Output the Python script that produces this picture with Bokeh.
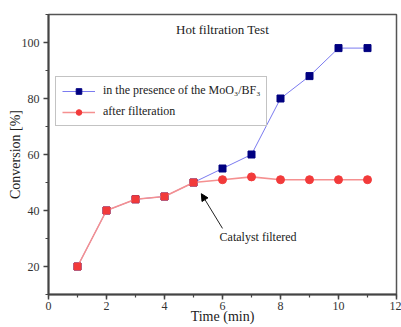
from bokeh.plotting import figure
from bokeh.models import (Legend, LegendItem, Label, Arrow, NormalHead,
                          SingleIntervalTicker, Range1d)
from bokeh.embed import file_html
from bokeh.resources import INLINE

# Conversion over time for the hot filtration experiment
time_min = [1, 2, 3, 4, 5, 6, 7, 8, 9, 10, 11]
with_catalyst = [20, 40, 44, 45, 50, 55, 60, 80, 88, 98, 98]
after_filtration = [20, 40, 44, 45, 50, 51, 52, 51, 51, 51, 51]
filter_index = 4  # catalyst removed after this sample (t = 5 min)

x_ticks_step = 2
y_ticks_step = 20

SERIF = "'Liberation Serif'"
BLUE_MARK = "#000080"
BLUE_LINE = "#7b7bf0"
RED_MARK = "#f23a3a"
RED_LINE = "#f59090"

p = figure(width=401, height=327, output_backend="svg", toolbar_location=None,
           x_range=Range1d(0, 12), y_range=Range1d(10, 110),
           min_border_left=48, min_border_right=5,
           min_border_top=14, min_border_bottom=33)
p.border_fill_color = "white"
p.background_fill_color = "white"
p.xgrid.visible = False
p.ygrid.visible = False
p.outline_line_color = "#555555"
p.outline_line_width = 1.5

# series: presence of catalyst
b_line = p.line(time_min, with_catalyst, line_color=BLUE_LINE, line_width=1)
b_mark = p.scatter(time_min, with_catalyst, marker="square", size=7,
                   fill_color=BLUE_MARK, line_color=BLUE_MARK)

# series: after filtration (shared points drawn as squares, later ones as circles)
r_line = p.line(time_min, after_filtration, line_color=RED_LINE, line_width=1.6)
k = filter_index + 1
p.scatter(time_min[:k], after_filtration[:k], marker="square", size=7,
          fill_color=RED_MARK, line_color=RED_MARK)
r_mark = p.scatter(time_min[k:], after_filtration[k:], marker="circle", size=8,
                   fill_color=RED_MARK, line_color=RED_MARK)

# axes
for ax in (p.xaxis[0], p.yaxis[0]):
    ax.axis_line_width = 2
    ax.axis_line_color = "#444444"
    ax.major_tick_line_color = "#444444"
    ax.minor_tick_line_color = "#444444"
    ax.major_tick_line_width = 1.5
    ax.minor_tick_line_width = 1.2
    ax.major_tick_in = 0
    ax.major_tick_out = 5
    ax.minor_tick_in = 0
    ax.minor_tick_out = 3
    ax.major_label_text_font = SERIF
    ax.major_label_text_font_size = "12px"
    ax.major_label_text_color = "#333333"
    ax.axis_label_text_font = SERIF
    ax.axis_label_text_font_size = "14px"
    ax.axis_label_text_font_style = "normal"
    ax.axis_label_text_color = "#222222"

p.xaxis.ticker = SingleIntervalTicker(interval=x_ticks_step, num_minor_ticks=2)
p.yaxis.ticker = SingleIntervalTicker(interval=y_ticks_step, num_minor_ticks=2)
p.xaxis.axis_label = "Time (min)"
p.yaxis.axis_label = "Conversion [%]"
p.xaxis.major_label_standoff = 2
p.xaxis.axis_label_standoff = -4
p.yaxis.major_label_standoff = 4
p.yaxis.axis_label_standoff = -4

# title inside the frame
p.add_layout(Label(x=6.0, y=104.5, text="Hot filtration Test",
                   text_font=SERIF, text_font_size="13px", text_color="#222222",
                   text_align="center", text_baseline="middle"))

# annotation for the filtration step
note_x, note_y = 5.9, 30.6
p.add_layout(Arrow(end=NormalHead(size=7, fill_color="black", line_color="black"),
                   x_start=6.0, y_start=33.6,
                   x_end=time_min[filter_index] + 0.27,
                   y_end=after_filtration[filter_index] - 4.0,
                   line_color="#222222", line_width=1))
p.add_layout(Label(x=note_x, y=note_y, text="Catalyst filtered",
                   text_font=SERIF, text_font_size="12px", text_color="#222222",
                   text_align="left", text_baseline="middle"))

legend = Legend(items=[
    LegendItem(label="in the presence of the MoO\u2083/BF\u2083", renderers=[b_line, b_mark]),
    LegendItem(label="after filteration", renderers=[r_line, r_mark]),
], location=(7, 168))
legend.label_text_font = SERIF
legend.label_text_font_size = "12px"
legend.label_text_color = "#222222"
legend.glyph_width = 33
legend.glyph_height = 14
legend.label_standoff = 8
legend.spacing = 6
legend.padding = 6
legend.margin = 0
legend.border_line_color = "#888888"
legend.border_line_width = 1
legend.background_fill_alpha = 1
p.add_layout(legend, "center")

open("out.html", "w").write(file_html(p, INLINE))
